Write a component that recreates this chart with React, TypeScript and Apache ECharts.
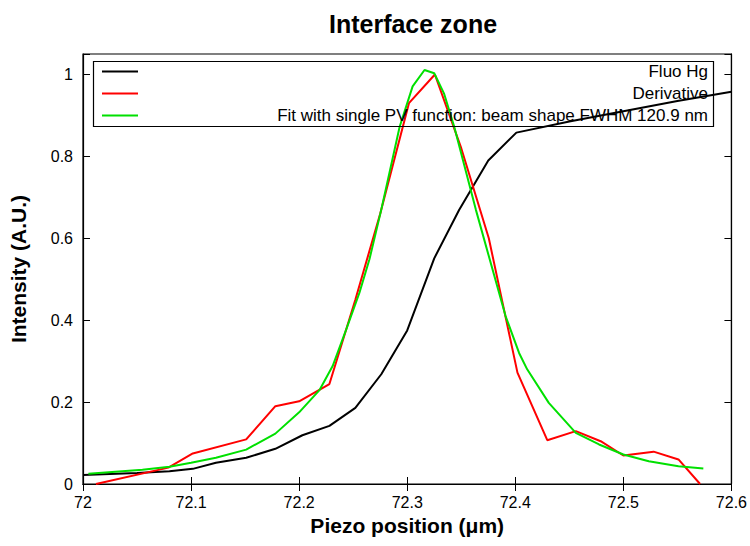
import React, { useEffect, useRef } from "react";
import * as echarts from "echarts";

const title = "Interface zone";
const xAxisName = "Piezo position (μm)";
const yAxisName = "Intensity (A.U.)";
const seriesNames = ["Fluo Hg", "Derivative", "Fit with single PV function: beam shape FWHM 120.9 nm"];
const seriesColors = ["#000000", "#ff0000", "#00e000"];

const fluoX = [72.0, 72.05, 72.08, 72.1016, 72.123, 72.151, 72.178, 72.203, 72.228, 72.252, 72.276, 72.3, 72.325, 72.348, 72.375, 72.401, 72.45, 72.5, 72.55, 72.6];
const fluoY = [0.022, 0.027, 0.031, 0.037, 0.052, 0.064, 0.086, 0.119, 0.142, 0.186, 0.268, 0.375, 0.551, 0.669, 0.79, 0.858, 0.885, 0.91, 0.935, 0.958];

const derivX = [72.012, 72.079, 72.1016, 72.151, 72.178, 72.2, 72.228, 72.252, 72.275, 72.3016, 72.3256, 72.35, 72.3755, 72.402, 72.4296, 72.456, 72.479, 72.5, 72.528, 72.551, 72.571];
const derivY = [0.0, 0.04, 0.0745, 0.109, 0.19, 0.202, 0.244, 0.45, 0.66, 0.93, 1.0, 0.82, 0.6, 0.272, 0.107, 0.129, 0.1045, 0.0696, 0.079, 0.06, 0.0];

const fitX = [72.005, 72.055, 72.08, 72.1, 72.123, 72.151, 72.178, 72.2, 72.219, 72.231, 72.2435, 72.2558, 72.265, 72.276, 72.293, 72.305, 72.316, 72.325, 72.334, 72.3435, 72.3635, 72.391, 72.4035, 72.411, 72.431, 72.456, 72.4775, 72.5, 72.5235, 72.551, 72.574];
const fitY = [0.025, 0.035, 0.042, 0.052, 0.064, 0.084, 0.123, 0.175, 0.23, 0.288, 0.377, 0.467, 0.548, 0.67, 0.8725, 0.971, 1.011, 1.003, 0.954, 0.8725, 0.67, 0.41, 0.32, 0.28, 0.198, 0.125, 0.0965, 0.072, 0.0556, 0.0435, 0.038];

const xTicks = { min: 72, max: 72.6, interval: 0.1 };
const yTicks = { min: 0, max: 1.05, interval: 0.2 };

const FONT = "'Liberation Sans', Arial, Helvetica, sans-serif";

function zip(xs: number[], ys: number[]) {
  return xs.map((x, i) => [x, ys[i]]);
}

export default function App() {
  const ref = useRef<HTMLDivElement>(null);
  useEffect(() => {
    if (!ref.current) return;
    const chart = echarts.init(ref.current, null, { renderer: "svg" });
    const left = 83, right = 17, top = 54, bottom = 62;
    const xFmt = (v: number) => String(Math.round(v * 10) / 10);
    const yFmt = (v: number) => (v > 1.01 ? "" : String(Math.round(v * 10) / 10));
    const tickStyle = { show: true, inside: true, length: 7, lineStyle: { color: "#000", width: 1 } };
    const legendRows = [71.5, 93.5, 115.5];
    const graphicEls: any[] = [
      {
        type: "rect",
        shape: { x: 93.5, y: 61.5, width: 620, height: 65 },
        style: { fill: "none", stroke: "#000", lineWidth: 1.2 },
        z: 10,
      },
    ];
    seriesNames.forEach((n, i) => {
      graphicEls.push({
        type: "line",
        shape: { x1: 102, y1: legendRows[i], x2: 138, y2: legendRows[i] },
        style: { stroke: seriesColors[i], lineWidth: 2 },
        z: 10,
      });
      graphicEls.push({
        type: "text",
        x: 708,
        y: legendRows[i],
        style: {
          text: n,
          font: `17px ${FONT}`,
          fill: "#000",
          textAlign: "right",
          textVerticalAlign: "middle",
        },
        z: 10,
      });
    });
    chart.setOption({
      animation: false,
      backgroundColor: "#ffffff",
      title: {
        text: title,
        left: 408,
        top: 6,
        textAlign: "center",
        textStyle: { fontFamily: FONT, fontSize: 25, fontWeight: "bold", color: "#000" },
      },
      grid: { left, right, top, bottom, show: true, borderColor: "#000", borderWidth: 1.2, backgroundColor: "transparent" },
      xAxis: [
        {
          type: "value",
          min: xTicks.min,
          max: xTicks.max,
          interval: xTicks.interval,
          position: "bottom",
          name: xAxisName,
          nameLocation: "middle",
          nameGap: 29,
          nameTextStyle: { fontFamily: FONT, fontSize: 21, fontWeight: "bold", color: "#000" },
          axisLine: { show: true, lineStyle: { color: "#000", width: 1.2 } },
          axisTick: tickStyle,
          axisLabel: { formatter: xFmt, fontFamily: FONT, fontSize: 16, color: "#000", margin: 10 },
          splitLine: { show: false },
        },
        {
          type: "value",
          min: xTicks.min,
          max: xTicks.max,
          interval: xTicks.interval,
          position: "top",
          axisLine: { show: true, lineStyle: { color: "#000", width: 1.2 } },
          axisTick: tickStyle,
          axisLabel: { show: false },
          splitLine: { show: false },
        },
      ],
      yAxis: [
        {
          type: "value",
          min: yTicks.min,
          max: yTicks.max,
          interval: yTicks.interval,
          position: "left",
          name: yAxisName,
          nameLocation: "middle",
          nameGap: 54,
          nameTextStyle: { fontFamily: FONT, fontSize: 21, fontWeight: "bold", color: "#000" },
          axisLine: { show: true, lineStyle: { color: "#000", width: 1.2 } },
          axisTick: tickStyle,
          axisLabel: { formatter: yFmt, fontFamily: FONT, fontSize: 16, color: "#000", margin: 10 },
          splitLine: { show: false },
        },
        {
          type: "value",
          min: yTicks.min,
          max: yTicks.max,
          interval: yTicks.interval,
          position: "right",
          axisLine: { show: true, lineStyle: { color: "#000", width: 1.2 } },
          axisTick: tickStyle,
          axisLabel: { show: false },
          splitLine: { show: false },
        },
      ],
      series: [
        { name: seriesNames[0], data: zip(fluoX, fluoY) },
        { name: seriesNames[1], data: zip(derivX, derivY) },
        { name: seriesNames[2], data: zip(fitX, fitY) },
      ].map((s, i) => ({
        type: "line",
        name: s.name,
        data: s.data,
        xAxisIndex: 0,
        yAxisIndex: 0,
        showSymbol: false,
        symbol: "none",
        clip: true,
        lineStyle: { color: seriesColors[i], width: 2 },
        z: 2 + i,
      })),
      graphic: graphicEls,
    });
    return () => chart.dispose();
  }, []);
  return <div ref={ref} style={{ width: 750, height: 546, position: "absolute", left: 0, top: 0 }} />;
}
